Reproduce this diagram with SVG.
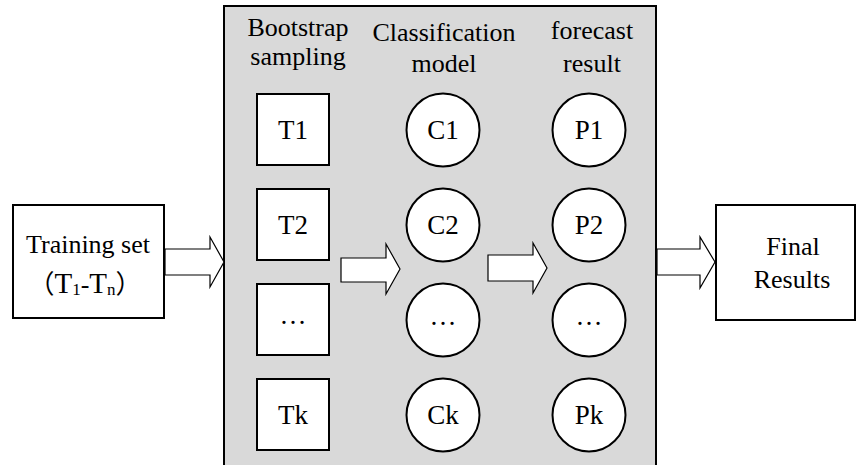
<svg xmlns="http://www.w3.org/2000/svg" width="857" height="465" viewBox="0 0 857 465">
<style>
  text { font-family: "Liberation Serif", "Noto Sans CJK SC", serif; fill: #000; text-anchor: middle; }
  .hd { font-size: 26px; }
  .lb { font-size: 27px; }
  .box { fill: #fff; stroke: #000; stroke-width: 2; }
  .arrow { fill: #fff; stroke: #000; stroke-width: 1.2; stroke-linejoin: miter; }
</style>
<rect width="857" height="465" fill="#fff"/>
<g id="panel">
  <rect x="224" y="6" width="432" height="470" fill="#d9d9d9" stroke="#000" stroke-width="2"/>
  <text class="hd" x="298" y="36">Bootstrap</text>
  <text class="hd" x="298" y="65">sampling</text>
  <text class="hd" x="444" y="41">Classification</text>
  <text class="hd" x="444" y="72">model</text>
  <text class="hd" x="592" y="39">forecast</text>
  <text class="hd" x="592" y="72">result</text>
</g>
<g id="training">
  <rect class="box" x="13" y="205" width="151" height="113"/>
  <text class="hd" x="88" y="253">Training set</text>
  <text class="hd" x="85" y="293">（<tspan font-size="29">T</tspan><tspan font-size="17" dy="2">1</tspan><tspan dy="-2">-</tspan><tspan font-size="29">T</tspan><tspan font-size="17" dy="2">n</tspan><tspan dy="-2">）</tspan></text>
</g>
<g id="T1"><rect class="box" x="257" y="94" width="72" height="71"/><text class="lb" x="293" y="139">T1</text></g>
<g id="T2"><rect class="box" x="257" y="189" width="72" height="71"/><text class="lb" x="293" y="234">T2</text></g>
<g id="T3"><rect class="box" x="257" y="284" width="72" height="71"/><text class="lb" x="293" y="324">…</text></g>
<g id="Tk"><rect class="box" x="257" y="379" width="72" height="71"/><text class="lb" x="293" y="424">Tk</text></g>
<g id="C1"><circle class="box" cx="443" cy="130" r="36.5"/><text class="lb" x="443" y="139">C1</text></g>
<g id="C2"><circle class="box" cx="443" cy="225" r="36.5"/><text class="lb" x="443" y="234">C2</text></g>
<g id="C3"><circle class="box" cx="443" cy="320" r="36.5"/><text class="lb" x="443" y="325">…</text></g>
<g id="Ck"><circle class="box" cx="443" cy="415" r="36.5"/><text class="lb" x="443" y="424">Ck</text></g>
<g id="P1"><circle class="box" cx="589" cy="130" r="36.5"/><text class="lb" x="589" y="139">P1</text></g>
<g id="P2"><circle class="box" cx="589" cy="225" r="36.5"/><text class="lb" x="589" y="234">P2</text></g>
<g id="P3"><circle class="box" cx="589" cy="320" r="36.5"/><text class="lb" x="589" y="325">…</text></g>
<g id="Pk"><circle class="box" cx="589" cy="415" r="36.5"/><text class="lb" x="589" y="424">Pk</text></g>
<g id="final">
  <rect class="box" x="716" y="205" width="139" height="115"/>
  <text class="hd" x="793" y="255">Final</text>
  <text class="hd" x="792" y="288">Results</text>
</g>
<g id="connectors">
  <polygon class="arrow" points="165,249 210,249 210,237 224,262 210,287 210,275 165,275"/>
  <polygon class="arrow" points="341,258 386,258 386,244 400,269 386,294 386,282 341,282"/>
  <polygon class="arrow" points="488,255 533,255 533,243 547,268 533,293 533,281 488,281"/>
  <polygon class="arrow" points="657,249 700,249 700,237 715,262 700,288 700,275 657,275"/>
</g>
</svg>
